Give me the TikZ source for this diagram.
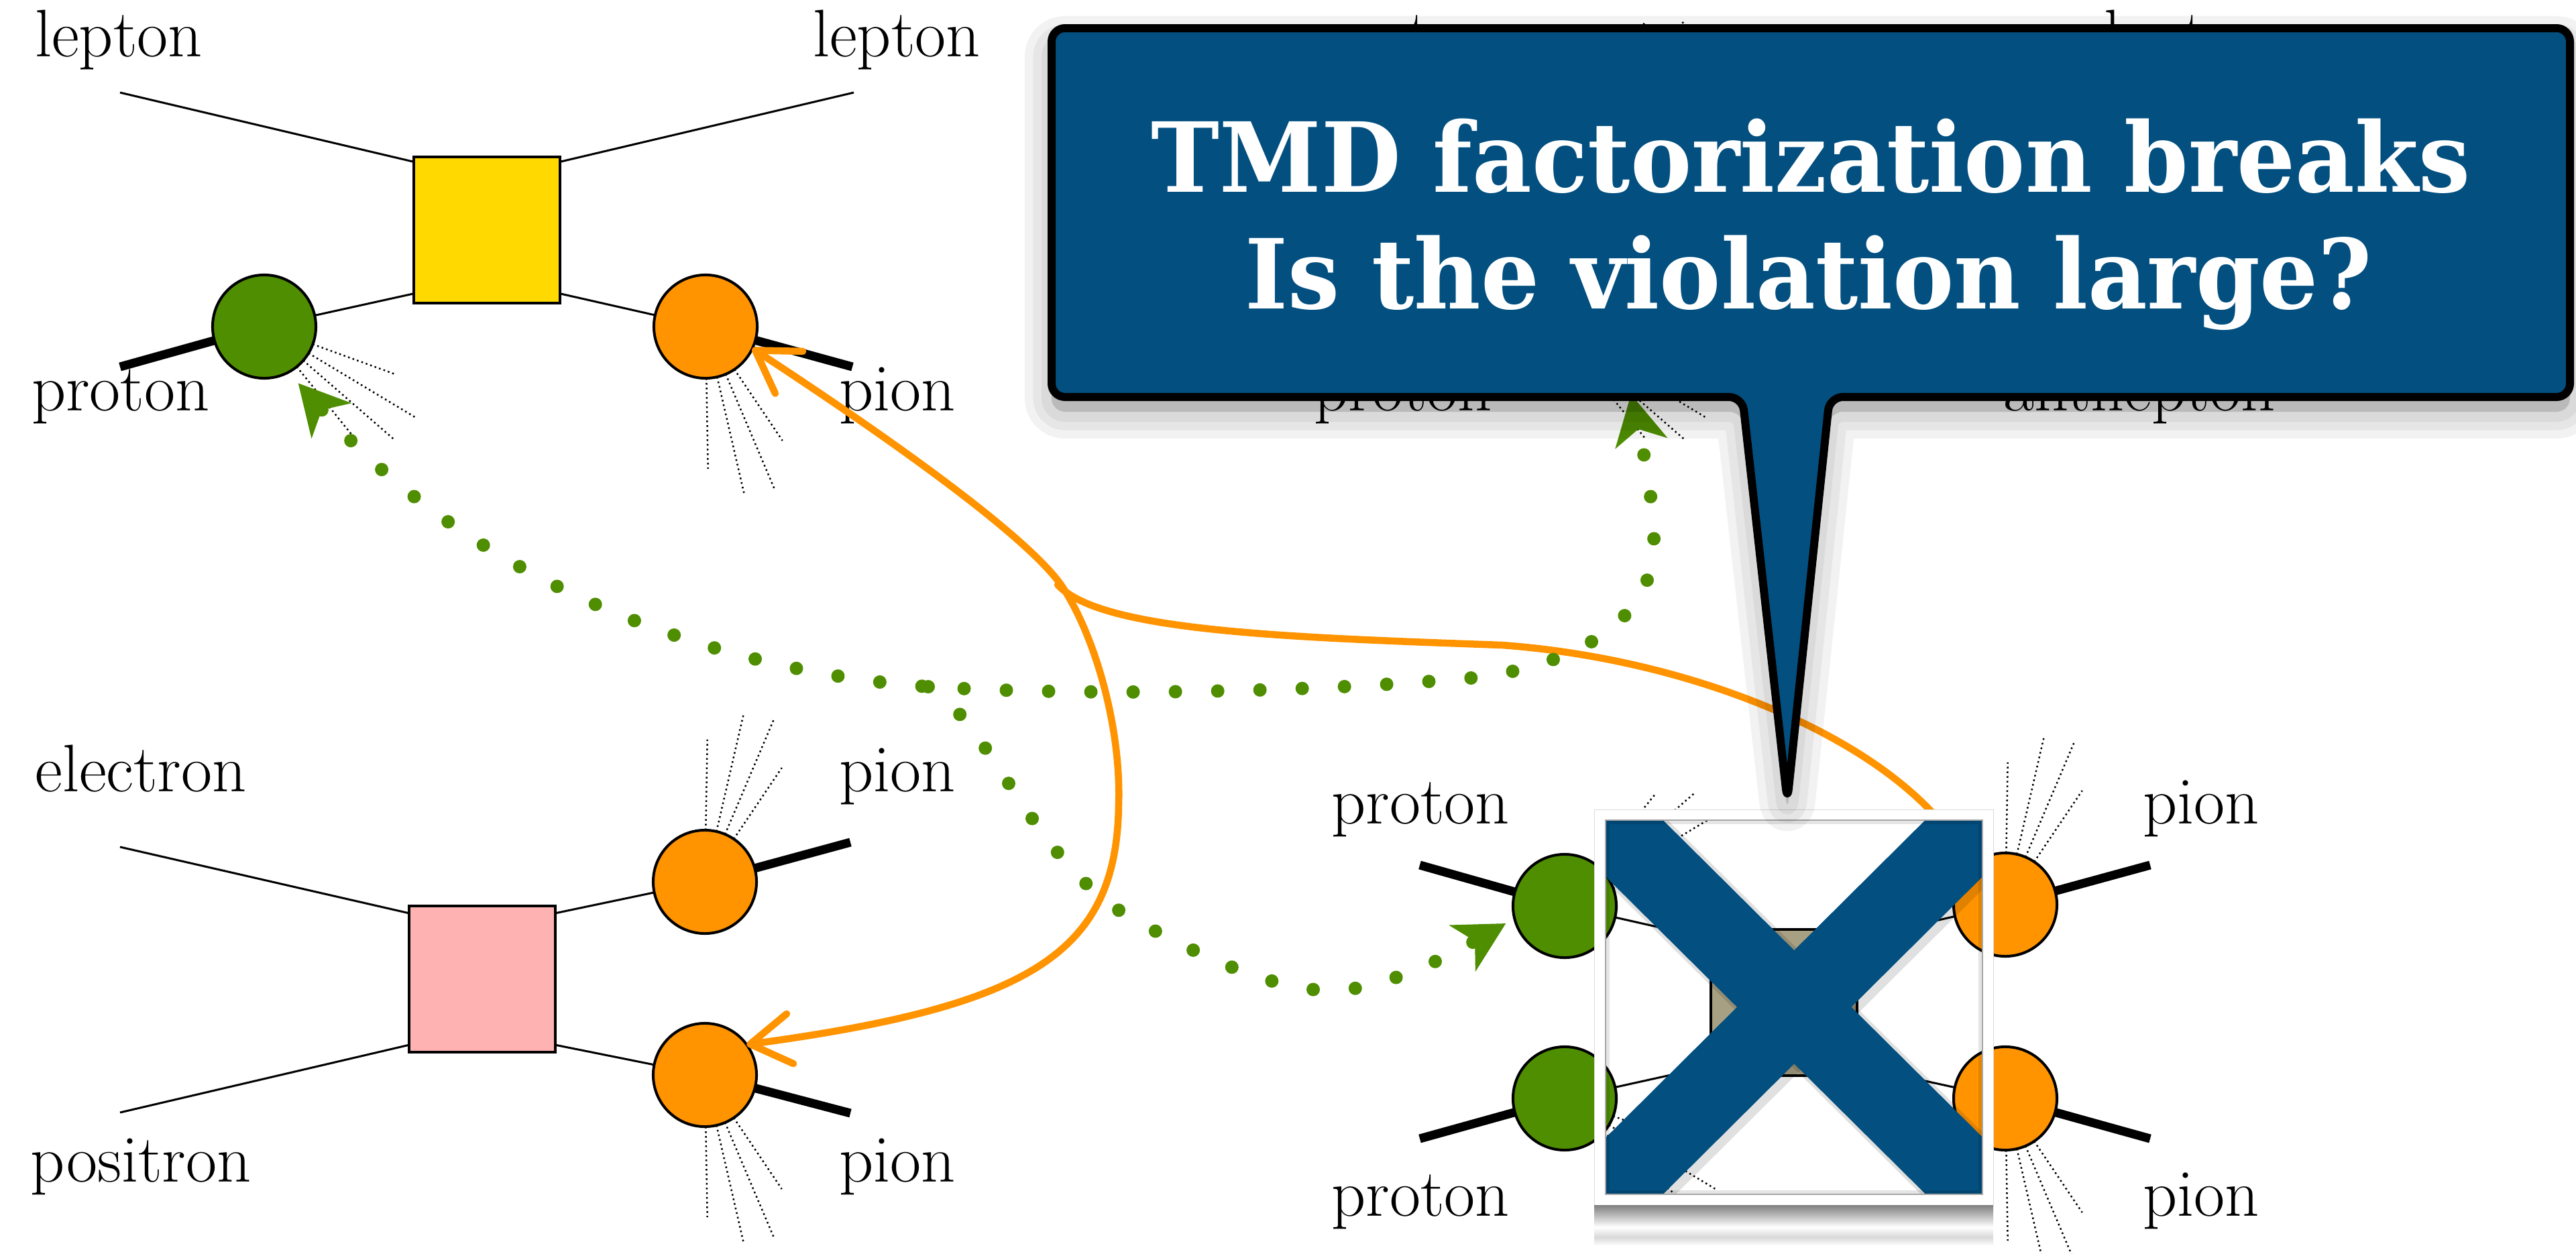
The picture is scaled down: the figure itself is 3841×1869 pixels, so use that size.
\documentclass[tikz,border=0pt]{standalone}
\usepackage{fontspec}
\newfontfamily\bubblefont{DejaVu Serif}
\usetikzlibrary{arrows.meta, calc}

\definecolor{bubbleblue}{RGB}{2,79,128}
\definecolor{protongreen}{RGB}{78,142,0}
\definecolor{pionorange}{RGB}{255,147,0}
\definecolor{boxyellow}{RGB}{255,217,0}
\definecolor{boxpink}{RGB}{255,178,178}
\definecolor{boxtan}{RGB}{168,160,131}

\begin{document}
\begin{tikzpicture}[
  x=0.01cm, y=-0.01cm,
  tag/.style = {font=\fontsize{28.5}{34}\selectfont, anchor=base, inner sep=0pt},
  bubbletag/.style = {font=\bubblefont\bfseries\fontsize{41}{48}\selectfont, text=white, anchor=base, inner sep=0pt},
  blob/.style = {circle, draw, line width=0.04cm, minimum size=1.54cm, inner sep=0pt, outer sep=0pt},
  greenblob/.style = {blob, fill=protongreen},
  orangeblob/.style = {blob, fill=pionorange},
  hardbox/.style = {draw, line width=0.04cm, minimum size=2.18cm, inner sep=0pt, outer sep=0pt},
  lepline/.style = {line width=0.03cm},
  hadron/.style = {line width=0.13cm},
  jet/.style = {line width=0.025cm, dash pattern=on 0.025cm off 0.045cm},
  flowbarb/.tip = {Straight Barb[length=0.6cm, width=0.75cm, round]},
  flowstealth/.tip = {Stealth[length=0.75cm, width=0.8cm, inset=0.22cm, line width=0pt, fill=protongreen]},
  orangeflow/.style = {draw=pionorange, line width=0.105cm, line cap=round, line join=round},
  greenflow/.style = {draw=protongreen, line width=0.2cm, line cap=round, dash pattern=on 0pt off 0.63cm},
  bubble/.style = {fill=bubbleblue, draw=black, line width=0.12cm, rounded corners=0.2cm, line join=round},
  bubbleshadow/.style = {draw=black, fill=black, opacity=0.05, rounded corners=0.2cm, line join=round}
]
  \useasboundingbox (0,0) rectangle (3841,1869);

  % ======================================================
  % SIDIS (top left)
  % ======================================================
  \node[tag] (tlleptin) at (177,84) {lepton};
  \node[tag] (tlleptout) at (1337,84) {lepton};
  \node[tag] (tlprotontag) at (180,612) {proton};
  \node[tag] (tlpiontag) at (1338,612) {pion};

  \node[hardbox, fill=boxyellow] (tlbox) at (726,343) {};
  \node[greenblob] (tlproton) at (394,487) {};
  \node[orangeblob] (tlpion) at (1052,487) {};

  \coordinate (tlin) at (179,138);
  \coordinate (tlout) at (1273,138);
  \coordinate (tlpin) at (179,547);
  \coordinate (tlpiout) at (1271,547);

  \draw[lepline] (tlin) -- (tlbox.137);
  \draw[lepline] (tlbox.43) -- (tlout);
  \draw[lepline] (tlbox.-139) -- (tlproton);
  \draw[lepline] (tlbox.-41) -- (tlpion);
  \draw[hadron] (tlpin) -- (tlproton);
  \draw[hadron] (tlpion) -- (tlpiout);

  \foreach \ang/\len in {20/2.06cm, 31/2.65cm, 41/2.56cm, 51/2.16cm}
    \draw[jet] ($(tlproton)+(-\ang:0.77cm)$) -- ($(tlproton)+(-\ang:\len)$);
  \foreach \ang/\len in {56/2.05cm, 67/2.62cm, 77/2.55cm, 89/2.12cm}
    \draw[jet] ($(tlpion)+(-\ang:0.77cm)$) -- ($(tlpion)+(-\ang:\len)$);

  % ======================================================
  % e+ e- annihilation (bottom left)
  % ======================================================
  \node[tag] (blelectron) at (210,1180) {electron};
  \node[tag] (blpionatag) at (1338,1180) {pion};
  \node[tag] (blpositron) at (210,1762) {positron};
  \node[tag] (blpionbtag) at (1338,1762) {pion};

  \node[hardbox, fill=boxpink] (blbox) at (719,1460) {};
  \node[orangeblob] (blpiona) at (1051,1315) {};
  \node[orangeblob] (blpionb) at (1051,1603) {};

  \coordinate (blin) at (179,1263);
  \coordinate (blout) at (179,1659);
  \coordinate (blpiaout) at (1268,1256);
  \coordinate (blpibout) at (1268,1660);

  \draw[lepline] (blin) -- (blbox.138);
  \draw[lepline] (blout) -- (blbox.-138);
  \draw[lepline] (blbox.42) -- (blpiona);
  \draw[lepline] (blbox.-42) -- (blpionb);
  \draw[hadron] (blpiona) -- (blpiaout);
  \draw[hadron] (blpionb) -- (blpibout);

  \foreach \ang/\len in {56/2.05cm, 67/2.62cm, 77/2.55cm, 89/2.12cm} {
    \draw[jet] ($(blpiona)+(\ang:0.77cm)$) -- ($(blpiona)+(\ang:\len)$);
    \draw[jet] ($(blpionb)+(-\ang:0.77cm)$) -- ($(blpionb)+(-\ang:\len)$);
  }

  % ======================================================
  % Drell-Yan (top right, mostly under the bubble)
  % ======================================================
  \node[tag] (trprotonatag) at (2098,84) {proton};
  \node[tag] (trlepton) at (3262,84) {lepton};
  \node[tag] (trprotonbtag) at (2092,612) {proton};
  \node[tag] (trantilepton) at (3190,612) {antilepton};

  \coordinate (trprotona) at (2318,200);
  \coordinate (trprotonb) at (2318,487);
  \coordinate (trtip) at (2432,588);

  \foreach \ang/\len in {20/2.06cm, 31/2.65cm, 41/2.56cm, 51/2.16cm} {
    \draw[jet] ($(trprotona)+(\ang:0.77cm)$) -- ($(trprotona)+(\ang:\len)$);
    \draw[jet] ($(trprotonb)+(-\ang:0.77cm)$) -- ($(trprotonb)+(-\ang:\len)$);
  }

  % ======================================================
  % p p -> pi pi (bottom right)
  % ======================================================
  \node[tag] (brprotonatag) at (2118,1228) {proton};
  \node[tag] (brpionatag) at (3282,1228) {pion};
  \node[tag] (brprotonbtag) at (2118,1813) {proton};
  \node[tag] (brpionbtag) at (3282,1813) {pion};

  \node[hardbox, fill=boxtan] (brbox) at (2660,1495) {};
  \node[greenblob] (brprotona) at (2333,1351) {};
  \node[greenblob] (brprotonb) at (2333,1638) {};
  \node[orangeblob] (brpiona) at (2990,1349) {};
  \node[orangeblob] (brpionb) at (2990,1638) {};

  \coordinate (brpain) at (2117,1290);
  \coordinate (brpbin) at (2117,1698);
  \coordinate (brpiaout) at (3206,1290);
  \coordinate (brpibout) at (3206,1698);

  \draw[lepline] (brbox.139) -- (brprotona);
  \draw[lepline] (brbox.-139) -- (brprotonb);
  \draw[lepline] (brbox.41) -- (brpiona);
  \draw[lepline] (brbox.-41) -- (brpionb);
  \draw[hadron] (brpain) -- (brprotona);
  \draw[hadron] (brpbin) -- (brprotonb);
  \draw[hadron] (brpiona) -- (brpiaout);
  \draw[hadron] (brpionb) -- (brpibout);

  \foreach \ang/\len in {20/2.06cm, 31/2.65cm, 41/2.56cm, 51/2.16cm} {
    \draw[jet] ($(brprotona)+(\ang:0.77cm)$) -- ($(brprotona)+(\ang:\len)$);
    \draw[jet] ($(brprotonb)+(-\ang:0.77cm)$) -- ($(brprotonb)+(-\ang:\len)$);
  }
  \foreach \ang/\len in {56/2.05cm, 67/2.62cm, 77/2.55cm, 89/2.12cm} {
    \draw[jet] ($(brpiona)+(\ang:0.77cm)$) -- ($(brpiona)+(\ang:\len)$);
    \draw[jet] ($(brpionb)+(-\ang:0.77cm)$) -- ($(brpionb)+(-\ang:\len)$);
  }

  % ======================================================
  % fragmentation functions (orange)
  % ======================================================
  \coordinate (orjoin) at (1582,872);
  \coordinate (orbend) at (1668,1200);
  \coordinate (orsplit) at (1577,872);
  \coordinate (ormid) at (2240,962);

  \draw[orangeflow, flowbarb-flowbarb] (tlpion.-25)
    .. controls (1260,610) and (1520,785) .. (orjoin)
    .. controls (1630,942) and (1672,1080) .. (orbend)
    .. controls (1665,1420) and (1540,1500) .. (blpionb.36);
  \draw[orangeflow, -flowbarb] (orsplit)
    .. controls (1640,940) and (1900,950) .. (ormid)
    .. controls (2550,985) and (2850,1120) .. (brpiona.133);

  % ======================================================
  % parton distributions (green)
  % ======================================================
  \coordinate (grjoin) at (1384,1024);
  \coordinate (grbend) at (2215,1009);
  \coordinate (grrise) at (2466,800);
  \coordinate (grlowa) at (1694,1373);
  \coordinate (grlowb) at (1991,1477);

  \draw[greenflow, flowstealth-flowstealth, shorten <=0.22cm] (tlproton.-62)
    .. controls (700,860) and (1050,1000) .. (grjoin)
    .. controls (1650,1040) and (2000,1030) .. (grbend)
    .. controls (2420,975) and (2470,880) .. (grrise)
    .. controls (2463,720) and (2445,650) .. (trtip);
  \draw[greenflow, -flowstealth, shorten >=0.15cm] (grjoin)
    .. controls (1480,1080) and (1540,1290) .. (grlowa)
    .. controls (1780,1420) and (1900,1480) .. (grlowb)
    .. controls (2070,1474) and (2170,1420) .. (brprotona.194);

  % ======================================================
  % crossed-out frame
  % ======================================================
  \begin{scope}
    \clip (2394,1223) rectangle (2956,1781);
    \draw[black, opacity=0.12, line width=1.3cm] (2352,1181) -- (3008,1832);
    \draw[black, opacity=0.12, line width=1.3cm] (3010,1181) -- (2352,1835);
    \draw[bubbleblue, line width=1.2cm] (2346,1175) -- (3002,1826);
    \draw[bubbleblue, line width=1.2cm] (3004,1175) -- (2346,1829);
  \end{scope}
  \draw[black, opacity=0.1, line width=0.06cm] (2397,1226) rectangle (2953,1778);
  \draw[white, line width=0.17cm] (2385,1215) rectangle (2964,1789);
  \draw[black!15, line width=0.01cm] (2377,1207) rectangle (2972,1797);
  \draw[black!35, line width=0.02cm] (2394,1223) rectangle (2956,1781);
  \shade[top color=black!50, bottom color=white] (2377,1797) rectangle (2972,1830);
  \shade[top color=white, bottom color=black!15] (2377,1830) rectangle (2972,1845);
  \shade[top color=black!15, bottom color=white] (2377,1845) rectangle (2972,1858);

  % ======================================================
  % speech bubble
  % ======================================================
  \foreach \w in {0.8cm, 0.55cm, 0.3cm}
    \draw[bubbleshadow, line width=\w] (1568,64) -- (3832,64) -- (3832,614) -- (2728,614)
      -- (2665,1211) -- (2598,614) -- (1568,614) -- cycle;
  \draw[bubble] (1568,42) -- (3832,42) -- (3832,592) -- (2728,592)
    -- (2665,1195) -- (2598,592) -- (1568,592) -- cycle;

  \node[bubbletag] (claim) at (2700,286) {\scalebox{0.95}[1]{TMD factorization breaks}};
  \node[bubbletag] (question) at (2697,460) {\scalebox{0.95}[1]{Is the violation large?}};

\end{tikzpicture}
\end{document}
